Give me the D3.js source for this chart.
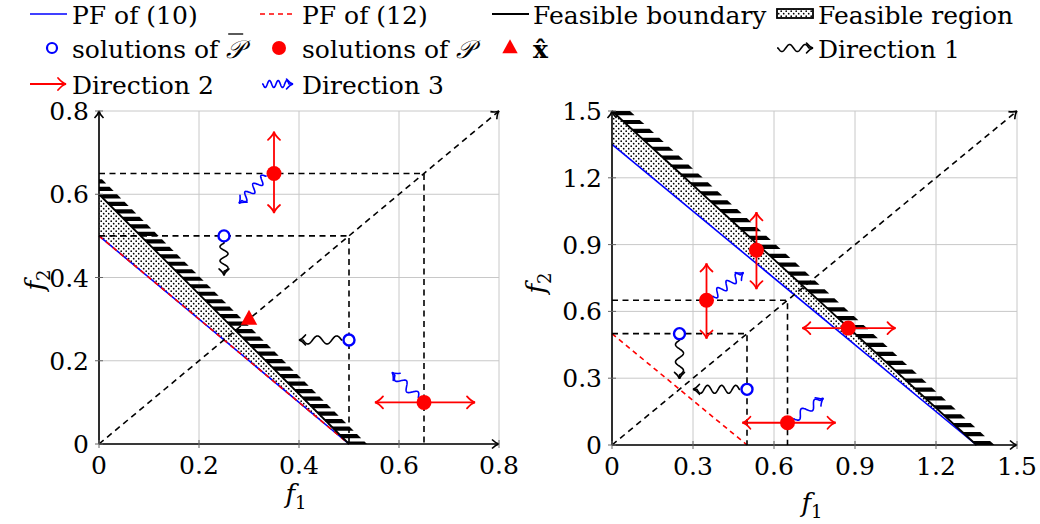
<!DOCTYPE html>
<html>
<head>
<meta charset="utf-8">
<script src="https://cdn.jsdelivr.net/npm/d3@7"></script>
<style>
  body { margin: 0; background: #fff; }
</style>
</head>
<body>
<svg id="chart" width="1040" height="524"></svg>
<script>
// ---------- data (objective space values) ----------
var leftTicks = [0, 0.2, 0.4, 0.6, 0.8];
var rightTicks = [0, 0.3, 0.6, 0.9, 1.2, 1.5];

var leftPF10 = [[0, 0.5], [0.5, 0]];
var leftPF12 = [[0, 0.5], [0.5, 0]];
var leftBoundary = [[0, 0.6], [0.5, 0]];
var leftGuides = [[[0, 0.65], [0.65, 0.65], [0.65, 0]], [[0, 0.5], [0.5, 0.5], [0.5, 0]]];
var leftDiagonal = [[0, 0], [0.8, 0.8]];
var leftCircles = [[0.25, 0.5], [0.5, 0.25]];
var leftDots = [[0.35, 0.65], [0.65, 0.1]];
var leftTriangles = [[0.3, 0.3]];
var leftDir1 = [[[0.25, 0.485], [0.25, 0.405]], [[0.487, 0.25], [0.4, 0.25]]];
var leftDir2 = [[[0.35, 0.555], [0.35, 0.75]], [[0.552, 0.1], [0.752, 0.1]]];
var leftDir3 = [[[0.335, 0.645], [0.28, 0.578]], [[0.64, 0.11], [0.586, 0.172]]];

var rightPF10 = [[0, 1.35], [1.35, 0]];
var rightPF12 = [[0, 0.5], [0.5, 0]];
var rightBoundary = [[0, 1.5], [1.35, 0]];
var rightGuides = [[[0, 0.65], [0.65, 0.65], [0.65, 0]], [[0, 0.5], [0.5, 0.5], [0.5, 0]]];
var rightDiagonal = [[0, 0], [1.5, 1.5]];
var rightCircles = [[0.25, 0.5], [0.5, 0.25]];
var rightDots = [[0.35, 0.65], [0.535, 0.875], [0.875, 0.525], [0.65, 0.1]];
var rightTriangles = [];
var rightDir1 = [[[0.25, 0.475], [0.25, 0.297]], [[0.475, 0.25], [0.3, 0.25]]];
var rightDir2 = [[[0.35, 0.478], [0.35, 0.815]], [[0.535, 0.70], [0.535, 1.045]],
                 [[0.705, 0.525], [1.05, 0.525]], [[0.483, 0.1], [0.828, 0.1]]];
var rightDir3 = [[[0.37, 0.665], [0.487, 0.775]], [[0.67, 0.115], [0.783, 0.21]]];

var legendRows = [
    [{key: "pf10", label: "PF of (10)"}, {key: "pf12", label: "PF of (12)"},
     {key: "boundary", label: "Feasible boundary"}, {key: "region", label: "Feasible region"}],
    [{key: "circle", label: "solutions of "}, {key: "dot", label: "solutions of "},
     {key: "triangle", label: ""}, {key: "dir1", label: "Direction 1"}],
    [{key: "dir2", label: "Direction 2"}, {key: "dir3", label: "Direction 3"}]
];

var BLUE = "#0000ff", RED = "#ff0000";
var FONT = "DejaVu Serif, DejaVu Sans, sans-serif";

var svg = d3.select("#chart").style("font-family", FONT);

// dotted fill for the feasible region
var defs = svg.append("defs");
var pat = defs.append("pattern")
    .attr("id", "dots")
    .attr("patternUnits", "userSpaceOnUse")
    .attr("width", 5).attr("height", 5);
pat.append("rect").attr("width", 5).attr("height", 5).attr("fill", "#fff");
pat.append("circle").attr("cx", 1.2).attr("cy", 1.2).attr("r", 0.85).attr("fill", "#000");
pat.append("circle").attr("cx", 3.7).attr("cy", 3.7).attr("r", 0.85).attr("fill", "#000");

// ---------- helpers ----------
function headPath(tip, u, len, half) {
    len = len || 7; half = half || 5;
    var n = [-u[1], u[0]];
    var a1 = [tip[0] - u[0] * len + n[0] * half, tip[1] - u[1] * len + n[1] * half];
    var a2 = [tip[0] - u[0] * len - n[0] * half, tip[1] - u[1] * len - n[1] * half];
    var c1 = [tip[0] - u[0] * len * 0.45 + n[0] * half * 0.15, tip[1] - u[1] * len * 0.45 + n[1] * half * 0.15];
    var c2 = [tip[0] - u[0] * len * 0.45 - n[0] * half * 0.15, tip[1] - u[1] * len * 0.45 - n[1] * half * 0.15];
    return "M" + a1 + "Q" + c1 + " " + tip + "Q" + c2 + " " + a2;
}

function unit(p0, p1) {
    var dx = p1[0] - p0[0], dy = p1[1] - p0[1], L = Math.hypot(dx, dy);
    return [dx / L, dy / L];
}

function snakePoints(p0, p1, amp, wl, pre, post) {
    var L = Math.hypot(p1[0] - p0[0], p1[1] - p0[1]);
    var u = unit(p0, p1), n = [-u[1], u[0]];
    var span = L - pre - post;
    var k = Math.max(1, Math.round(span / wl));
    var w = span / k;
    var pts = [p0];
    for (var i = 0; i <= 80; i++) {
        var t = pre + span * i / 80;
        var off = amp * Math.sin(2 * Math.PI * (t - pre) / w);
        pts.push([p0[0] + u[0] * t + n[0] * off, p0[1] + u[1] * t + n[1] * off]);
    }
    pts.push(p1);
    return pts;
}

function drawSnake(g, p0, p1, color, amp, wl) {
    g.append("path")
        .attr("d", d3.line()(snakePoints(p0, p1, amp, wl, 1, 4)))
        .attr("fill", "none").attr("stroke", color).attr("stroke-width", 1.6)
        .attr("stroke-linejoin", "round");
    g.append("path")
        .attr("d", headPath(p1, unit(p0, p1), 6.5, 5))
        .attr("fill", "none").attr("stroke", color).attr("stroke-width", 1.6)
        .attr("stroke-linecap", "round");
}

function drawArrow(g, p0, p1, color, both) {
    g.append("line")
        .attr("x1", p0[0]).attr("y1", p0[1]).attr("x2", p1[0]).attr("y2", p1[1])
        .attr("stroke", color).attr("stroke-width", 1.8);
    g.append("path").attr("d", headPath(p1, unit(p0, p1), 8, 6))
        .attr("fill", "none").attr("stroke", color).attr("stroke-width", 1.8).attr("stroke-linecap", "round");
    if (both) {
        g.append("path").attr("d", headPath(p0, unit(p1, p0), 8, 6))
            .attr("fill", "none").attr("stroke", color).attr("stroke-width", 1.8).attr("stroke-linecap", "round");
    }
}

function triPath(c, s) {
    return "M" + c[0] + "," + (c[1] - s * 0.62) + "L" + (c[0] + s * 0.55) + "," + (c[1] + s * 0.38) +
        "L" + (c[0] - s * 0.55) + "," + (c[1] + s * 0.38) + "Z";
}

function fmtTick(d) { return d === 0 ? "0" : d3.format(".1f")(d); }

// ---------- one panel ----------
function buildPanel(id, cfg) {
    var x = d3.scaleLinear().domain(cfg.domain).range(cfg.xr);
    var y = d3.scaleLinear().domain(cfg.domain).range(cfg.yr);
    var P = function (d) { return [x(d[0]), y(d[1])]; };
    var g = svg.append("g").attr("id", id);
    var x0 = x(cfg.domain[0]), x1 = x(cfg.domain[1]);
    var y0 = y(cfg.domain[0]), y1 = y(cfg.domain[1]);

    g.append("clipPath").attr("id", id + "_clip")
        .append("rect").attr("x", x0).attr("y", y1).attr("width", 400).attr("height", y0 - y1);

    // grid
    g.append("g").selectAll("line").data(cfg.ticks).join("line")
        .attr("x1", d => x(d)).attr("x2", d => x(d)).attr("y1", y0).attr("y2", y1)
        .attr("stroke", "#c8c8c8").attr("stroke-width", 1);
    g.append("g").selectAll("line").data(cfg.ticks).join("line")
        .attr("x1", x0).attr("x2", x1).attr("y1", d => y(d)).attr("y2", d => y(d))
        .attr("stroke", "#c8c8c8").attr("stroke-width", 1);

    // feasible region
    var region = [cfg.pf10[0], cfg.boundary[0], cfg.boundary[1], cfg.pf10[1]];
    g.append("path").attr("d", d3.line()(region.map(P))).attr("fill", "url(#dots)");

    // hatch marks on the feasible boundary
    var b0 = P(cfg.boundary[0]), b1 = P(cfg.boundary[1]);
    var u = unit(b0, b1), Lb = Math.hypot(b1[0] - b0[0], b1[1] - b0[1]);
    var hatch = [];
    for (var t = -2 * cfg.hatchStep; t <= Lb + 0.5; t += cfg.hatchStep) hatch.push(t);
    var th = 4.2 / Math.abs(u[1]);
    g.append("g").attr("clip-path", "url(#" + id + "_clip)")
        .selectAll("path").data(hatch).join("path")
        .attr("d", function (t) {
            var a = [b0[0] + u[0] * t, b0[1] + u[1] * t];
            var b = [a[0] + u[0] * th, a[1] + u[1] * th];
            return "M" + a + "L" + (a[0] + 18) + "," + a[1] + "L" + (b[0] + 18) + "," + b[1] + "L" + b + "Z";
        })
        .attr("fill", "#000");

    // PF lines and boundary
    g.append("path").attr("d", d3.line()(cfg.pf10.map(P)))
        .attr("stroke", BLUE).attr("stroke-width", 1.6).attr("fill", "none");
    g.append("path").attr("d", d3.line()(cfg.pf12.map(P)))
        .attr("stroke", RED).attr("stroke-width", 1.6).attr("fill", "none").attr("stroke-dasharray", "5,4");
    g.append("path").attr("d", d3.line()(cfg.boundary.map(P)))
        .attr("stroke", "#000").attr("stroke-width", 1.8).attr("fill", "none");

    // dashed guides
    cfg.guides.forEach(function (gd) {
        g.append("path").attr("d", d3.line()(gd.map(P)))
            .attr("stroke", "#000").attr("stroke-width", 1.6).attr("fill", "none").attr("stroke-dasharray", "6,4.5");
    });
    var d0 = P(cfg.diagonal[0]), d1 = P(cfg.diagonal[1]);
    g.append("path").attr("d", d3.line()([d0, d1]))
        .attr("stroke", "#000").attr("stroke-width", 1.6).attr("fill", "none").attr("stroke-dasharray", "6,4.5");
    g.append("path").attr("d", headPath(d1, unit(d0, d1), 7, 5))
        .attr("stroke", "#000").attr("stroke-width", 1.6).attr("fill", "none");

    // axes
    g.append("line").attr("x1", x0).attr("x2", x1).attr("y1", y0).attr("y2", y0)
        .attr("stroke", "#000").attr("stroke-width", 1.6);
    g.append("line").attr("x1", x0).attr("x2", x0).attr("y1", y0).attr("y2", y1)
        .attr("stroke", "#000").attr("stroke-width", 1.6);
    g.append("path").attr("d", headPath([x1, y0], [1, 0], 7, 4.5))
        .attr("stroke", "#000").attr("stroke-width", 1.6).attr("fill", "none");
    g.append("path").attr("d", headPath([x0, y1], [0, -1], 7, 4.5))
        .attr("stroke", "#000").attr("stroke-width", 1.6).attr("fill", "none");

    // ticks
    g.append("g").selectAll("line").data(cfg.ticks).join("line")
        .attr("x1", d => x(d)).attr("x2", d => x(d)).attr("y1", y0 - 4).attr("y2", y0 + 4)
        .attr("stroke", "#666").attr("stroke-width", 1);
    g.append("g").selectAll("line").data(cfg.ticks).join("line")
        .attr("x1", x0 - 4).attr("x2", x0 + 4).attr("y1", d => y(d)).attr("y2", d => y(d))
        .attr("stroke", "#666").attr("stroke-width", 1);
    g.append("g").selectAll("text").data(cfg.ticks).join("text")
        .attr("x", d => x(d)).attr("y", y0 + 30).attr("text-anchor", "middle")
        .attr("font-size", 25).text(fmtTick);
    g.append("g").selectAll("text").data(cfg.ticks).join("text")
        .attr("x", x0 - 10).attr("y", d => y(d) + 9).attr("text-anchor", "end")
        .attr("font-size", 25).text(fmtTick);

    // axis labels
    var xl = g.append("text").attr("x", cfg.xlab[0]).attr("y", cfg.xlab[1])
        .attr("text-anchor", "middle").attr("font-size", 26);
    xl.append("tspan").attr("font-style", "italic").text("f");
    xl.append("tspan").attr("font-size", 18).attr("dy", 6).text("1");
    var yl = g.append("text")
        .attr("transform", "translate(" + cfg.ylab[0] + "," + cfg.ylab[1] + ") rotate(-90)")
        .attr("text-anchor", "middle").attr("font-size", 26);
    yl.append("tspan").attr("font-style", "italic").text("f");
    yl.append("tspan").attr("font-size", 18).attr("dy", 6).text("2");

    // direction arrows
    cfg.dir1.forEach(function (s) { drawSnake(g, P(s[0]), P(s[1]), "#000", 4, 16); });
    cfg.dir3.forEach(function (s) { drawSnake(g, P(s[0]), P(s[1]), BLUE, 4, 13); });
    cfg.dir2.forEach(function (s) { drawArrow(g, P(s[0]), P(s[1]), RED, true); });

    // solutions
    g.append("g").selectAll("circle").data(cfg.circles).join("circle")
        .attr("cx", d => x(d[0])).attr("cy", d => y(d[1])).attr("r", 5.5)
        .attr("fill", "#fff").attr("stroke", BLUE).attr("stroke-width", 2.4);
    g.append("g").selectAll("circle").data(cfg.dots).join("circle")
        .attr("cx", d => x(d[0])).attr("cy", d => y(d[1])).attr("r", 7.5)
        .attr("fill", RED);
    g.append("g").selectAll("path").data(cfg.triangles).join("path")
        .attr("d", d => triPath(P(d), 15)).attr("fill", RED);
}

buildPanel("left", {
    domain: [0, 0.8], xr: [99, 499], yr: [444, 111], ticks: leftTicks, hatchStep: 10.6,
    pf10: leftPF10, pf12: leftPF12, boundary: leftBoundary, guides: leftGuides, diagonal: leftDiagonal,
    circles: leftCircles, dots: leftDots, triangles: leftTriangles,
    dir1: leftDir1, dir2: leftDir2, dir3: leftDir3,
    xlab: [296, 503], ylab: [44, 280]
});
buildPanel("right", {
    domain: [0, 1.5], xr: [612, 1017], yr: [445, 111], ticks: rightTicks, hatchStep: 13.2,
    pf10: rightPF10, pf12: rightPF12, boundary: rightBoundary, guides: rightGuides, diagonal: rightDiagonal,
    circles: rightCircles, dots: rightDots, triangles: rightTriangles,
    dir1: rightDir1, dir2: rightDir2, dir3: rightDir3,
    xlab: [812, 512], ylab: [545, 283]
});

// ---------- legend ----------
var legend = svg.append("g").attr("id", "legend");
var colX = [30, 262, 492, 777];
var textX = [72, 302, 533, 818];
var rowY = [14, 48, 84];
var symW = 37;

legendRows.forEach(function (row, ri) {
    row.forEach(function (item, ci) {
        var sx = colX[ci], cy = rowY[ri];
        var k = item.key;
        if (k === "pf10") {
            legend.append("line").attr("x1", sx).attr("x2", sx + symW).attr("y1", cy).attr("y2", cy)
                .attr("stroke", BLUE).attr("stroke-width", 1.6);
        } else if (k === "pf12") {
            legend.append("line").attr("x1", sx - 2).attr("x2", sx + symW - 5).attr("y1", cy).attr("y2", cy)
                .attr("stroke", RED).attr("stroke-width", 1.6).attr("stroke-dasharray", "5,4");
        } else if (k === "boundary") {
            legend.append("line").attr("x1", sx).attr("x2", sx + symW).attr("y1", cy).attr("y2", cy)
                .attr("stroke", "#000").attr("stroke-width", 1.8);
        } else if (k === "region") {
            legend.append("rect").attr("x", sx).attr("y", cy - 5).attr("width", symW - 1).attr("height", 9)
                .attr("fill", "url(#dots)").attr("stroke", "#000").attr("stroke-width", 1.8);
        } else if (k === "circle") {
            legend.append("circle").attr("cx", 52).attr("cy", cy).attr("r", 5)
                .attr("fill", "#fff").attr("stroke", BLUE).attr("stroke-width", 2.2);
        } else if (k === "dot") {
            legend.append("circle").attr("cx", 279).attr("cy", cy).attr("r", 7).attr("fill", RED);
        } else if (k === "triangle") {
            legend.append("path").attr("d", triPath([510, cy], 14)).attr("fill", RED);
        } else if (k === "dir1") {
            drawSnake(legend, [sx, cy], [sx + symW - 1, cy], "#000", 3.5, 14);
        } else if (k === "dir2") {
            drawArrow(legend, [sx, cy], [sx + symW - 1, cy], RED, false);
        } else if (k === "dir3") {
            drawSnake(legend, [sx, cy], [sx + 31, cy], BLUE, 3.5, 10);
        }
        var txt = legend.append("text").attr("x", textX[ci]).attr("y", cy + 10)
            .attr("font-size", 25);
        txt.append("tspan").text(item.label);
        if (k === "circle" || k === "dot") {
            txt.append("tspan").attr("font-style", "italic").text("\uD835\uDCAB");
            if (k === "circle") {
                // overline drawn over the calligraphic P
                var node = txt.node();
                var full = node.getComputedTextLength();
                var lab = node.getSubStringLength(0, item.label.length);
                legend.append("line")
                    .attr("x1", textX[ci] + lab + 2).attr("x2", textX[ci] + full - 1)
                    .attr("y1", cy - 14).attr("y2", cy - 14)
                    .attr("stroke", "#000").attr("stroke-width", 1.3);
            }
        } else if (k === "triangle") {
            txt.append("tspan").attr("font-weight", "bold").text("x\u0302");
        }
    });
});
</script>
</body>
</html>
